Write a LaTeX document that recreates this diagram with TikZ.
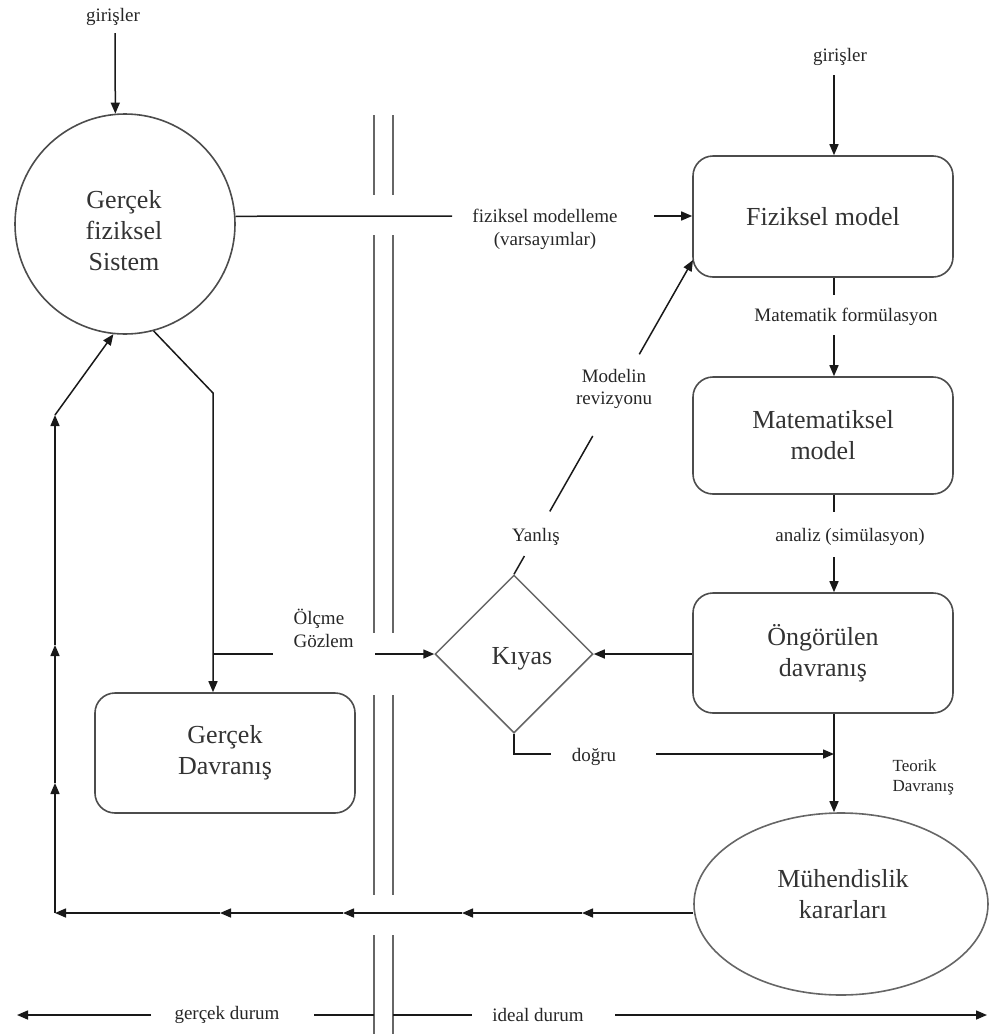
\documentclass[tikz,border=0pt]{standalone}
\usepackage{fontspec}
\setmainfont{Liberation Serif}
\usetikzlibrary{arrows.meta,shapes.geometric,calc}
\begin{document}
\begin{tikzpicture}[x=1pt,y=-1pt,
  big/.style={font=\fontsize{26}{31}\selectfont, text=black!80, align=center},
  small/.style={font=\fontsize{19}{22.5}\selectfont, text=black!85},
  tiny/.style={font=\fontsize{17}{20}\selectfont, text=black!85},
  modelbox/.style={draw=black!70, line width=1.6pt, rounded corners=20pt, minimum width=260pt, inner sep=0pt, big},
  arr/.style={-{Triangle[length=11pt,width=9pt]}},
  ln/.style={line width=1.5pt, draw=black!90},
  wall/.style={line width=1.8pt, draw=black!60}]
\useasboundingbox (0,0) rectangle (989,1034);

% ---- double wall (real / ideal border)
\foreach \wx in {374,393}{
  \draw[wall] (\wx,115) -- (\wx,195);
  \draw[wall] (\wx,235) -- (\wx,633);
  \draw[wall] (\wx,695) -- (\wx,895);
  \draw[wall] (\wx,935) -- (\wx,1034);
}

% ---- nodes
\node[circle, draw=black!70, line width=1.6pt, minimum size=220pt, inner sep=0pt] (circ) at (125,224) {};
\node[big] (circt) at (124,231) {Gerçek\\fiziksel\\Sistem};
\node[small] (in1) at (113,17) {girişler};
\node[small] (in2) at (840,57) {girişler};
\node[modelbox, minimum height=121pt] (fm) at (823,216.5) {Fiziksel model};
\node[modelbox, minimum height=117pt] (mm) at (823,435.5) {Matematiksel\\model};
\node[modelbox, minimum height=120pt] (og) at (823,653) {Öngörülen\\davranış};
\node[modelbox, minimum height=120pt] (gd) at (225,753) {Gerçek\\Davranış};
\node[diamond, draw=black!60, line width=1.5pt, minimum width=158pt, minimum height=158pt, inner sep=0pt] (kiyas) at (514,654) {};
\node[big] (kiyast) at (522,659) {Kıyas};
\node[ellipse, draw=black!60, line width=1.6pt, minimum width=294pt, minimum height=182pt, inner sep=0pt] (ell) at (841,904) {};
\node[big] (ellt) at (843,894) {Mühendislik\\kararları};

% ---- labels
\node[small, align=center] (fmlbl) at (545,229.5) {fiziksel modelleme\\(varsayımlar)};
\node[small] (mflbl) at (846,317) {Matematik formülasyon};
\node[small] (anlbl) at (850,537) {analiz (simülasyon)};
\node[small, align=center] (revlbl) at (614,389) {Modelin\\revizyonu};
\node[small] (ylbl) at (536,537) {Yanlış};
\node[small] (dlbl) at (594,757) {doğru};
\node[small, align=left, anchor=west] (olbl) at (290,628.5) {Ölçme\\Gözlem};
\node[tiny, align=left, anchor=west] (tlbl) at (889,777) {Teorik\\Davranış};
\node[small] (gclbl) at (227,1015) {gerçek durum};
\node[small] (idlbl) at (538,1015) {ideal durum};

% ---- helper coordinates
\coordinate (vx) at (834,0);
\coordinate (in1s) at (115,33);
\coordinate (in2s) at (834,75);
\coordinate (fmg1) at (452,216);
\coordinate (fmg2) at (654,216);
\coordinate (a1) at (834,295);
\coordinate (a2) at (834,335);
\coordinate (b1) at (834,512);
\coordinate (b2) at (834,557);
\coordinate (rv) at (693,260);
\coordinate (d1) at (551,754);
\coordinate (d2) at (656,754);
\coordinate (gx) at (213,393);
\coordinate (o1) at (273,654);
\coordinate (o2) at (375,654);
\coordinate (f1) at (582,913);
\coordinate (f2) at (462,913);
\coordinate (f3) at (343,913);
\coordinate (f4) at (220,913);
\coordinate (f5) at (55,913);
\coordinate (f6) at (55,783);
\coordinate (f7) at (55,645);
\coordinate (f8) at (55,415);
\coordinate (g0) at (17,1015);
\coordinate (g1) at (151,1015);
\coordinate (g2) at (314,1015);
\coordinate (g3) at (374,1015);
\coordinate (g4) at (393,1015);
\coordinate (g5) at (472,1015);
\coordinate (g6) at (615,1015);
\coordinate (g7) at (987,1015);

% ---- connectors
\draw[ln,arr] (in1s) -- (circ.95);
\draw[ln,arr] (in2s) -- (fm.north -| vx);
\draw[ln] (circ.4) -- (fmg1);
\draw[ln,arr] (fmg2) -- (fm.west |- fmg2);
\draw[ln] (fm.south -| vx) -- (a1);
\draw[ln,arr] (a2) -- (mm.north -| vx);
\draw[ln] (mm.south -| vx) -- (b1);
\draw[ln,arr] (b2) -- (og.north -| vx);
\draw[ln,arr] (og.west |- kiyas.east) -- (kiyas.east);
\draw[ln,arr] (og.south -| vx) -- (vx |- ell.north);
\draw[ln] (kiyas.south) -- (kiyas.south |- d1) -- (d1);
\draw[ln,arr] (d2) -- (vx |- d2);
\draw[ln] (kiyas.north) -- ($(kiyas.north)!0.058!(rv)$);
\draw[ln] ($(kiyas.north)!0.2!(rv)$) -- ($(kiyas.north)!0.44!(rv)$);
\draw[ln,arr] ($(kiyas.north)!0.70!(rv)$) -- (rv);
\draw[ln,arr] (circ.-75) -- (gx) -- (gx |- gd.north);
\draw[ln] (gx |- o1) -- (o1);
\draw[ln,arr] (o2) -- (kiyas.west);
\draw[ln,arr] (ell.west |- f1) -- (f1);
\draw[ln,arr] (f1) -- (f2);
\draw[ln,arr] (f2) -- (f3);
\draw[ln,arr] (f3) -- (f4);
\draw[ln,arr] (f4) -- (f5);
\draw[ln,arr] (f5) -- (f6);
\draw[ln,arr] (f6) -- (f7);
\draw[ln,arr] (f7) -- (f8);
\draw[ln,arr] (f8) -- (circ.-96);
\draw[ln,arr] (g1) -- (g0);
\draw[ln] (g2) -- (g3);
\draw[ln] (g4) -- (g5);
\draw[ln,arr] (g6) -- (g7);
\end{tikzpicture}
\end{document}
